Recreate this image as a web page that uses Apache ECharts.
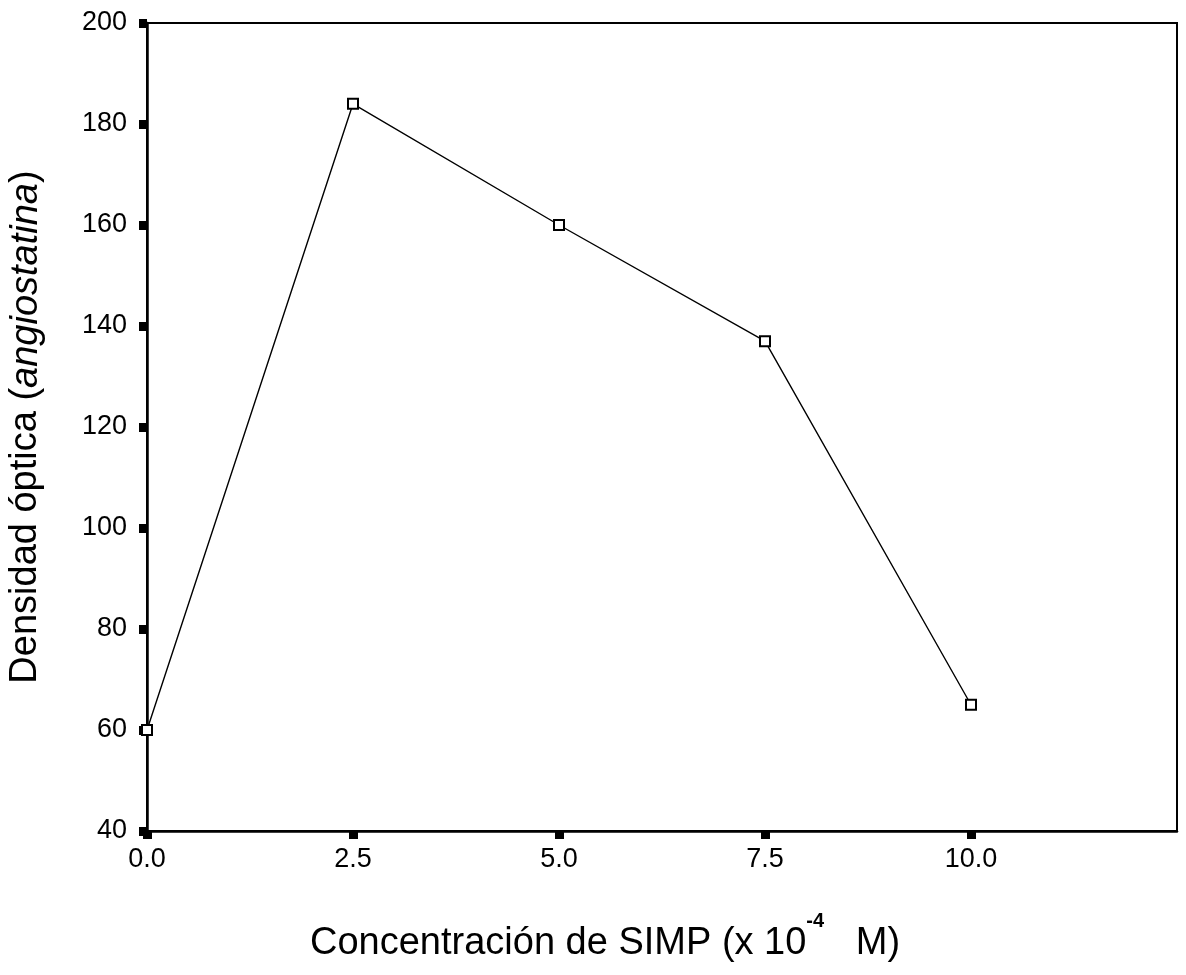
<!DOCTYPE html>
<html>
<head>
<meta charset="utf-8">
<script src="https://cdn.jsdelivr.net/npm/echarts@6/dist/echarts.min.js"></script>
<style>
    html, body { margin: 0; padding: 0; background: #fff; }
    #chart { width: 1186px; height: 975px; }
</style>
</head>
<body>
<div id="chart"></div>
<script>
// concentración SIMP (x 10^-4 M)
const concentracion = [0, 2.5, 5.0, 7.5, 10.0];
// densidad óptica (angiostatina)
const densidad = [60, 184, 160, 137, 65];
const xTicks = [0, 2.5, 5.0, 7.5, 10.0];
const yTicks = [40, 60, 80, 100, 120, 140, 160, 180, 200];

const chart = echarts.init(document.getElementById('chart'));
const font = '"Liberation Sans", Arial, sans-serif';

const option = {
    backgroundColor: '#fff',
    animation: false,
    title: {
        text: '{a|Concentración de SIMP (x 10}{s|-4}{a|   M)}',
        left: 305,
        top: 906,
        textStyle: {
            fontFamily: font,
            fontWeight: 'normal',
            rich: {
                a: { fontSize: 38, color: '#000', fontFamily: font, fontWeight: 'normal', lineHeight: 52, verticalAlign: 'bottom' },
                s: { fontSize: 20, color: '#000', fontFamily: font, fontWeight: 'bold', verticalAlign: 'top', lineHeight: 52 }
            }
        }
    },
    grid: {
        left: 147,
        top: 23,
        right: 9,
        bottom: 144,
        show: true,
        borderColor: '#000',
        borderWidth: 2,
        containLabel: false,
        outerBoundsMode: 'none'
    },
    xAxis: {
        type: 'value',
        min: 0,
        max: 12.5,
        interval: 2.5,
        axisLine: { show: true, lineStyle: { color: '#000', width: 2.5 } },
        axisTick: {
            show: true,
            customValues: xTicks,
            length: 8,
            lineStyle: { color: '#000', width: 9 }
        },
        axisLabel: {
            customValues: xTicks,
            color: '#000',
            fontSize: 27,
            fontFamily: font,
            margin: 15,
            formatter: v => v.toFixed(1)
        },
        splitLine: { show: false }
    },
    yAxis: {
        type: 'value',
        min: 40,
        max: 200,
        interval: 20,
        name: '{a|Densidad óptica (}{i|angiostatina}{a|)}',
        nameLocation: 'middle',
        nameGap: 102,
        nameTextStyle: {
            rich: {
                a: { fontSize: 38, color: '#000', fontFamily: font },
                i: { fontSize: 38, color: '#000', fontFamily: font, fontStyle: 'italic' }
            }
        },
        axisLine: { show: true, lineStyle: { color: '#000', width: 2.5 } },
        axisTick: {
            show: true,
            customValues: yTicks,
            length: 8,
            lineStyle: { color: '#000', width: 9 }
        },
        axisLabel: {
            color: '#000',
            fontSize: 27,
            fontFamily: font,
            margin: 20
        },
        splitLine: { show: false }
    },
    series: [{
        type: 'line',
        data: concentracion.map((x, i) => [x, densidad[i]]),
        symbol: 'rect',
        symbolSize: 10,
        showAllSymbol: true,
        lineStyle: { color: '#000', width: 1.4 },
        itemStyle: { color: '#fff', borderColor: '#000', borderWidth: 2 },
        z: 5
    }]
};
chart.setOption(option);
</script>
</body>
</html>
